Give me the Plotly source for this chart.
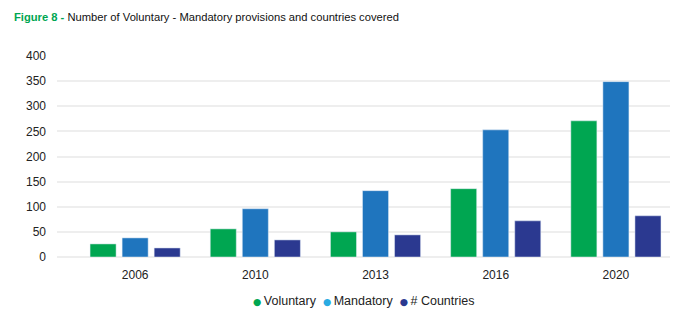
import plotly.graph_objects as go

years = ["2006", "2010", "2013", "2016", "2020"]
voluntary = [26, 56, 50, 136, 271]
mandatory = [38, 96, 132, 253, 349]
countries = [18, 34, 44, 72, 82]

series_names = ["Voluntary", "Mandatory", "# Countries"]
bar_colors = {"Voluntary": "#00A651", "Mandatory": "#1F75BE", "# Countries": "#2B3990"}
legend_colors = {"Voluntary": "#00A651", "Mandatory": "#29ABE2", "# Countries": "#2B3990"}

fig = go.Figure()
for name, vals in zip(series_names, [voluntary, mandatory, countries]):
    fig.add_trace(go.Bar(x=years, y=vals, name=name, marker_color=bar_colors[name],
                         showlegend=False, hoverinfo="x+y+name"))

legend_text = "&nbsp;&nbsp;".join(
    f"<span style='color:{legend_colors[n]};font-size:9.5px;font-family:DejaVu Sans'>●</span>&#8201;{n}"
    for n in series_names
)

fig.update_layout(
    width=685, height=327,
    margin=dict(l=57, r=15, t=56, b=70),
    paper_bgcolor="white", plot_bgcolor="white",
    font=dict(family="Liberation Sans, Arial, sans-serif", size=12, color="#222222"),
    barmode="group", bargap=0.2, bargroupgap=0.1875,
    showlegend=False,
    annotations=[
        dict(text="<b><span style='color:#00A651'>Figure 8 -</span></b> Number of Voluntary - Mandatory provisions and countries covered",
             xref="paper", yref="paper", x=-45/613, y=1 + 39/201, xanchor="left", yanchor="middle",
             showarrow=False, font=dict(size=11.2, color="#111111")),
        dict(text=legend_text, xref="paper", yref="paper", x=0.5, y=-44/201,
             xanchor="center", yanchor="middle", showarrow=False,
             font=dict(size=12.5, color="#222222")),
    ],
)
fig.update_xaxes(type="category", range=[-0.65, 4.45], showgrid=False, showline=False,
                 ticks="", ticklabelstandoff=9, tickfont=dict(size=12, color="#222222"))
fig.update_yaxes(range=[0, 400], dtick=50, showgrid=True, gridcolor="#EEEEEE", gridwidth=2,
                 zeroline=True, zerolinecolor="#EEEEEE", zerolinewidth=2,
                 showline=False, ticks="", ticklabelstandoff=10,
                 tickfont=dict(size=12, color="#222222"))

fig.write_html("out.html")
